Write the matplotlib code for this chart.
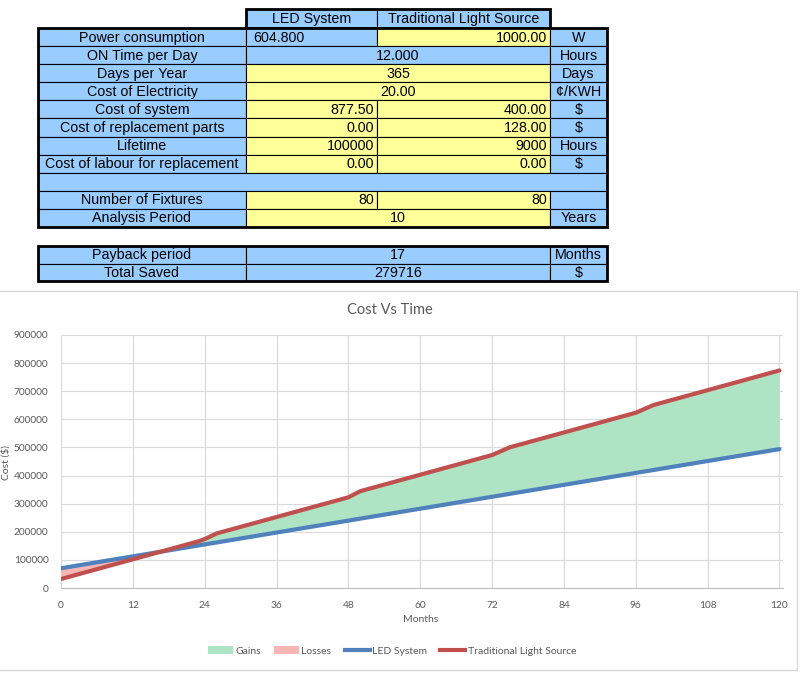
import matplotlib
matplotlib.use("Agg")
import matplotlib.pyplot as plt
from matplotlib.patches import Rectangle
from matplotlib.lines import Line2D
from matplotlib.patches import Patch

# table contents
row_labels = ["Power consumption", "ON Time per Day", "Days per Year", "Cost of Electricity",
              "Cost of system", "Cost of replacement parts", "Lifetime",
              "Cost of labour for replacement", "", "Number of Fixtures", "Analysis Period"]
led_vals = ["604.800", "12.000", "365", "20.00", "877.50", "0.00", "100000", "0.00", "", "80", "10"]
trad_vals = ["1000.00", None, None, None, "400.00", "128.00", "9000", "0.00", "", "80", None]
units = ["W", "Hours", "Days", "\u00a2/KWH", "$", "$", "Hours", "$", "", "", "Years"]
summary_labels = ["Payback period", "Total Saved"]
summary_vals = ["17", "279716"]
summary_units = ["Months", "$"]

# chart data
months = [0, 6, 12, 17, 23, 24, 26, 36, 48, 50, 60, 72, 75, 84, 96, 99, 108, 120]
led_cost = [70200, 91400, 112600, 130200, 151400, 155000, 162000, 197300, 239700, 246800,
            282100, 324500, 335100, 366900, 409300, 419900, 451700, 494000]
trad_cost = [32000, 67000, 102100, 131300, 166300, 174000, 194100, 252500, 322600, 344500,
             402900, 473000, 500700, 553300, 623400, 651100, 703700, 773800]
xticks = list(range(0, 121, 12))
yticks = list(range(0, 900001, 100000))

BLUE = "#99ccff"
YEL = "#ffff99"
GRAY = "#595959"

W, H = 811, 680
fig = plt.figure(figsize=(W / 100, H / 100), dpi=100)

# ---- table, drawn in pixel coordinates
tab = fig.add_axes([0, 0, 1, 1])
tab.set_xlim(0, W)
tab.set_ylim(H, 0)
tab.axis("off")

tfont = dict(family=["Liberation Sans", "DejaVu Sans"], fontsize=10.3, color="black")
cx = [38, 246, 377, 550, 607]


def cell(x0, x1, y0, y1, fc, text="", ha="center", lw=0.8):
    tab.add_patch(Rectangle((x0, y0), x1 - x0, y1 - y0, facecolor=fc, edgecolor="black", lw=lw))
    if text:
        if ha == "right":
            tx = x1 - 3
        elif ha == "left":
            tx = x0 + 3
        else:
            tx = (x0 + x1) / 2
        tab.text(tx, (y0 + y1) / 2 + 0.5, text, ha=ha, va="center", **tfont)


# header
cell(cx[1], cx[2], 9, 28, BLUE, "LED System")
cell(cx[2], cx[3], 9, 28, BLUE, "Traditional Light Source")
tab.add_patch(Rectangle((cx[1], 9), cx[3] - cx[1], 19, fill=False, edgecolor="black", lw=2))

yellow_led = [False, False, True, True, True, True, True, True, False, True, True]
top = 28.0
rh = (227 - 28) / 11
for i, lab in enumerate(row_labels):
    y0 = top + i * rh
    y1 = y0 + rh
    if lab == "":
        cell(cx[0], cx[4], y0, y1, BLUE)
        continue
    cell(cx[0], cx[1], y0, y1, BLUE, lab)
    if trad_vals[i] is None:
        cell(cx[1], cx[3], y0, y1, YEL if yellow_led[i] else BLUE, led_vals[i])
    else:
        if i == 0:
            cell(cx[1], cx[2], y0, y1, BLUE)
            tab.text(279, (y0 + y1) / 2 + 0.5, led_vals[i], ha="center", va="center", **tfont)
        else:
            cell(cx[1], cx[2], y0, y1, YEL, led_vals[i], ha="right")
        cell(cx[2], cx[3], y0, y1, YEL, trad_vals[i], ha="right")
    cell(cx[3], cx[4], y0, y1, BLUE, units[i])
tab.add_patch(Rectangle((cx[0], top), cx[4] - cx[0], 227 - top, fill=False, edgecolor="black", lw=2))

# summary table
stop = 246.0
srh = (281 - 246) / 2
for i, lab in enumerate(summary_labels):
    y0 = stop + i * srh
    y1 = y0 + srh
    cell(cx[0], cx[1], y0, y1, BLUE, lab)
    cell(cx[1], cx[3], y0, y1, BLUE, summary_vals[i])
    cell(cx[3], cx[4], y0, y1, BLUE, summary_units[i])
tab.add_patch(Rectangle((cx[0], stop), cx[4] - cx[0], 281 - stop, fill=False, edgecolor="black", lw=2))

# chart frame
tab.add_patch(Rectangle((-2, 291), 799, 379, fill=False, edgecolor="#d9d9d9", lw=1))

# ---- chart
cfont = ["Lato", "DejaVu Sans"]
ax = fig.add_axes([61 / W, 1 - 588 / H, (783 - 61) / W, (588 - 335) / H])
ax.fill_between(months, led_cost, trad_cost, where=[t >= l for t, l in zip(trad_cost, led_cost)],
                interpolate=True, facecolor="#aee3c4", lw=0)
ax.fill_between(months, led_cost, trad_cost, where=[t <= l for t, l in zip(trad_cost, led_cost)],
                interpolate=True, facecolor="#f6b6b6", lw=0)
ax.plot(months, led_cost, color="#4f81bd", lw=3, solid_capstyle="round")
ax.plot(months, trad_cost, color="#c0504d", lw=3, solid_capstyle="round")

ax.set_xlim(0, 120.6)
ax.set_ylim(0, 900000)
ax.set_xticks(xticks)
ax.set_yticks(yticks)
ax.set_xticklabels([str(v) for v in xticks], family=cfont, fontsize=7.3, color=GRAY)
ax.set_yticklabels([str(v) for v in yticks], family=cfont, fontsize=7.3, color=GRAY)
ax.tick_params(length=0, pad=9)
ax.grid(True, color="#d9d9d9", lw=0.8)
ax.set_axisbelow(True)
for s in ["top", "right", "left"]:
    ax.spines[s].set_visible(False)
ax.spines["bottom"].set_color("#bfbfbf")

fig.text(390 / W, 1 - 310 / H, "Cost Vs Time", ha="center", va="center",
         family=cfont, fontsize=10.5, color=GRAY)
fig.text(421 / W, 1 - 619 / H, "Months", ha="center", va="center",
         family=cfont, fontsize=7.5, color=GRAY)
fig.text(6 / W, 1 - 462 / H, "Cost ($)", ha="center", va="center", rotation=90,
         family=cfont, fontsize=7.5, color=GRAY)

handles = [Patch(facecolor="#aee3c4", edgecolor="none"),
           Patch(facecolor="#f6b6b6", edgecolor="none"),
           Line2D([], [], color="#4f81bd", lw=3),
           Line2D([], [], color="#c0504d", lw=3)]
leg = fig.legend(handles, ["Gains", "Losses", "LED System", "Traditional Light Source"],
                 loc="center", bbox_to_anchor=(392 / W, 1 - 651 / H), ncol=4, frameon=False,
                 prop=dict(family=cfont, size=7.5), handlelength=2.4, handleheight=0.8,
                 handletextpad=0.2, columnspacing=1.3)
for t in leg.get_texts():
    t.set_color(GRAY)

fig.savefig("out.png", dpi=100)
